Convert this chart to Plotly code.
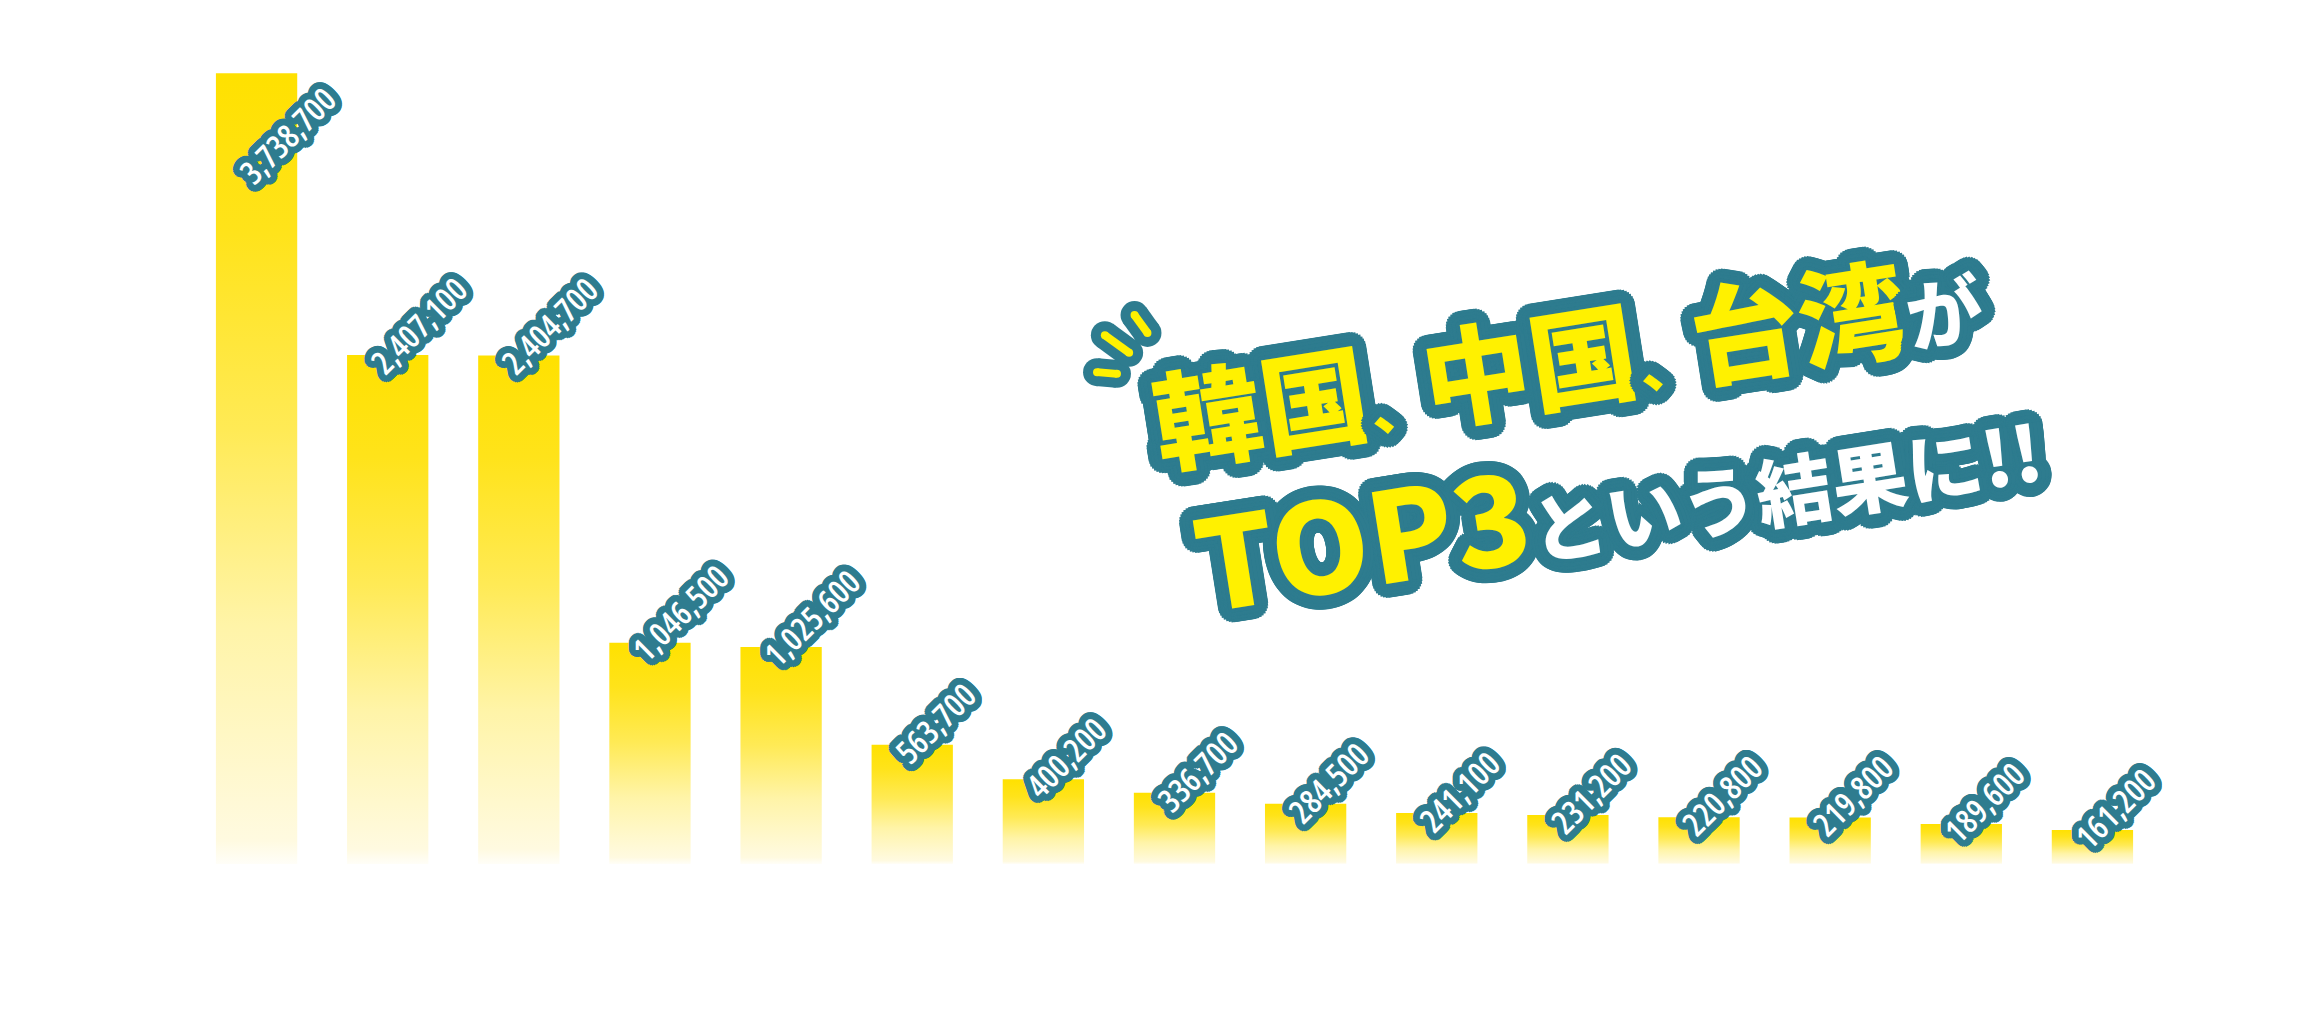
import math
import plotly.graph_objects as go

# visitor counts, ranked (top 3: Korea, China, Taiwan)
ranks = list(range(1, 16))
visitors = [3738700, 2407100, 2404700, 1046500, 1025600, 563700, 400200,
            336700, 284500, 241100, 231200, 220800, 219800, 189600, 161200]

title_line1 = ("韓国<span style='font-size:56px'>、</span>中国"
               "<span style='font-size:56px'>、</span>台湾"
               "<span style='color:#ffffff;font-size:76px'>が</span>")
title_line2 = "TOP3<span style='color:#ffffff;font-size:76px'>という結果に!!</span>"

TEAL = "#2e7c8f"
BAR_YELLOW = "#ffe100"
TITLE_YELLOW = "#fff100"

W, H = 2300, 1010
ML, MR, MT, MB = 191, 142, 18, 146
PW, PH = W - ML - MR, H - MT - MB


def px_x(px):
    return (px - ML) / PW


def px_y(py):
    return (H - MB - py) / PH


def outline(radii, steps, color):
    # ring of hard text-shadows, gives a rounded outline around glyphs
    parts = []
    for r in radii:
        for k in range(steps):
            a = 2 * math.pi * k / steps
            parts.append(f"{r * math.cos(a):.1f}px {r * math.sin(a):.1f}px 0 {color}")
    return ", ".join(parts)


bar_w = 0.62
grad = [[0, "#fffef8"], [0.03, "#fffae0"], [0.3, "#fff4a8"],
        [0.55, "#ffea55"], [0.8, "#ffe31a"], [1, BAR_YELLOW]]

fig = go.Figure()
for i, v in enumerate(visitors):
    x0, x1 = i - bar_w / 2, i + bar_w / 2
    fig.add_trace(go.Scatter(
        x=[x0, x1, x1, x0, x0], y=[0, 0, v, v, 0],
        mode="lines", fill="toself", line=dict(width=0),
        fillgradient=dict(type="vertical", colorscale=grad),
        hoverinfo="skip", showlegend=False,
    ))

label_shadow = outline([1.5, 3, 4.5, 6, 7], 24, TEAL)
top = max(visitors)
for i, v in enumerate(visitors):
    fig.add_annotation(
        x=i, y=v, xref="x", yref="y",
        text=f"<span style='font-stretch:80%'>{v:,}</span>",
        showarrow=False, textangle=-45,
        xanchor="left", yanchor="bottom",
        xshift=-30, yshift=-31 if v != top else -123,
        font=dict(family="Open Sans", size=33, color="white", weight=600,
                  shadow=label_shadow),
    )

title_shadow = outline([4, 8, 11, 14], 32, TEAL)
for text, cx, cy, size in [(title_line1, 1566, 354, 108),
                           (title_line2, 1616, 492, 125)]:
    fig.add_annotation(
        x=px_x(cx), y=px_y(cy), xref="paper", yref="paper",
        text=text, showarrow=False, textangle=-9,
        xanchor="center", yanchor="middle",
        font=dict(family="Noto Sans CJK JP", size=size, color=TITLE_YELLOW,
                  weight=900, shadow=title_shadow),
    )


def capsule(cx, cy, ang, ln, width, color):
    # a line with round ends (circles at both ends)
    dx, dy = math.cos(math.radians(ang)), math.sin(math.radians(ang))
    h = ln / 2
    fig.add_shape(type="line", xref="paper", yref="paper",
                  x0=px_x(cx - h * dx), y0=px_y(cy - h * dy),
                  x1=px_x(cx + h * dx), y1=px_y(cy + h * dy),
                  line=dict(color=color, width=width))
    r = width / 2
    for s in (-1, 1):
        fig.add_shape(type="circle", xref="paper", yref="paper",
                      xsizemode="pixel", ysizemode="pixel",
                      xanchor=px_x(cx + s * h * dx), yanchor=px_y(cy + s * h * dy),
                      x0=-r, x1=r, y0=-r, y1=r,
                      fillcolor=color, line=dict(width=0))


# little emphasis dashes left of the title
dashes = [(1107, 373, 5, 20), (1117, 344, 36, 30), (1141, 324, 54, 22)]
for d in dashes:
    capsule(*d, 28, TEAL)
for d in dashes:
    capsule(*d, 8, TITLE_YELLOW)

fig.update_layout(
    width=W, height=H,
    margin=dict(l=ML, r=MR, t=MT, b=MB),
    paper_bgcolor="white", plot_bgcolor="white",
    xaxis=dict(range=[-0.5, len(visitors) - 0.5], visible=False, fixedrange=True),
    yaxis=dict(range=[0, 4000000], visible=False, fixedrange=True),
    showlegend=False,
)

fig.write_html("out.html", config={"displayModeBar": False},
               post_script="document.body.style.margin='0';")
